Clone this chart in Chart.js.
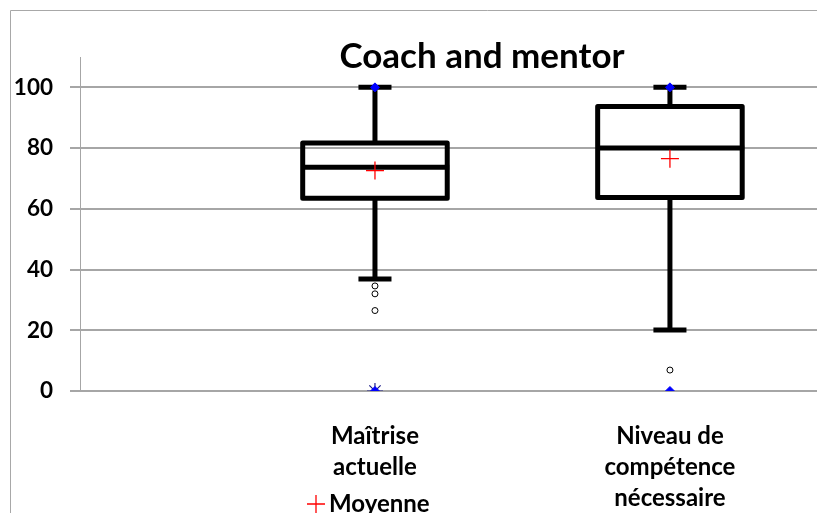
<!DOCTYPE html>
<html><head><meta charset="utf-8">
<script src="https://cdn.jsdelivr.net/npm/chart.js@4/dist/chart.umd.min.js"></script>
<style>html,body{margin:0;padding:0;background:#fff;overflow:hidden}#wrap{width:817px;height:513px;position:relative;overflow:hidden}</style>
</head><body><div id="wrap"><canvas id="c" width="964" height="513"></canvas></div>
<script>
const chartTitle = 'Coach and mentor';
const categories = [['Maîtrise', 'actuelle'], ['Niveau de', 'compétence', 'nécessaire']];
const q1 = [63.5, 63.7];
const median = [73.7, 80.0];
const q3 = [81.7, 93.7];
const whiskerLow = [36.9, 20.1];
const whiskerHigh = [100, 100];
const means = [72.6, 76.5];
const outliers = [[34.6, 32.0, 26.5], [6.9]];
const extremeOutliers = [[0], []];
const minima = [0, 0];
const maxima = [100, 100];
const yTicks = [0, 20, 40, 60, 80, 100];
const meanLabel = 'Moyenne';

const FONT = 'Lato, "Open Sans", "DejaVu Sans", sans-serif';

const boxPlugin = {
  id: 'boxes',
  beforeDatasetsDraw(chart) {
    const ctx = chart.ctx, xs = chart.scales.x, ys = chart.scales.y;
    ctx.save();
    ctx.strokeStyle = '#000';
    ctx.lineWidth = 5;
    ctx.lineJoin = 'round';
    categories.forEach((c, i) => {
      const xc = xs.getPixelForValue(i + 1);
      const hw = xs.getPixelForValue(i + 1 + 0.245) - xc;
      const cw = xs.getPixelForValue(i + 1 + 0.056) - xc;
      const yq1 = ys.getPixelForValue(q1[i]), yq3 = ys.getPixelForValue(q3[i]);
      const ym = ys.getPixelForValue(median[i]);
      const ylo = ys.getPixelForValue(whiskerLow[i]), yhi = ys.getPixelForValue(whiskerHigh[i]);
      ctx.beginPath();
      ctx.moveTo(xc, yq3); ctx.lineTo(xc, yhi);
      ctx.moveTo(xc, yq1); ctx.lineTo(xc, ylo);
      ctx.moveTo(xc - cw, yhi); ctx.lineTo(xc + cw, yhi);
      ctx.moveTo(xc - cw, ylo); ctx.lineTo(xc + cw, ylo);
      ctx.stroke();
      ctx.beginPath();
      ctx.rect(xc - hw, yq3, 2 * hw, yq1 - yq3);
      ctx.stroke();
      ctx.beginPath();
      ctx.moveTo(xc - hw, ym); ctx.lineTo(xc + hw + 2, ym);
      ctx.stroke();
    });
    ctx.restore();
  },
  afterDraw(chart) {
    const ctx = chart.ctx;
    ctx.save();
    ctx.strokeStyle = '#a8a8a8';
    ctx.lineWidth = 1;
    ctx.beginPath();
    ctx.moveTo(10.5, 513); ctx.lineTo(10.5, 10.5); ctx.lineTo(chart.width, 10.5);
    ctx.stroke();
    const ds = chart.data.datasets[0];
    const lx = 316, ly = 504, r = 9;
    ctx.strokeStyle = ds.borderColor;
    ctx.lineWidth = 1.3;
    ctx.beginPath();
    ctx.moveTo(lx - r, ly); ctx.lineTo(lx + r, ly);
    ctx.moveTo(lx, ly - r); ctx.lineTo(lx, ly + r);
    ctx.stroke();
    ctx.fillStyle = '#000';
    ctx.font = 'bold 24px ' + FONT;
    ctx.textBaseline = 'alphabetic';
    ctx.textAlign = 'left';
    ctx.fillText(ds.label, 329, 512);
    ctx.restore();
  }
};

new Chart(document.getElementById('c'), {
  type: 'scatter',
  data: {
    datasets: [
      {
        label: meanLabel,
        data: means.map((v, i) => ({ x: i + 1, y: v })),
        pointStyle: 'cross', pointRadius: 9, borderColor: '#ff0000', borderWidth: 1.3
      },
      {
        label: 'Outliers',
        data: outliers.flatMap((arr, i) => arr.map(v => ({ x: i + 1, y: v }))),
        pointStyle: 'circle', pointRadius: 3, borderColor: '#000', backgroundColor: '#fff', borderWidth: 1
      },
      {
        label: 'Extremes',
        data: minima.map((v, i) => ({ x: i + 1, y: v })).concat(maxima.map((v, i) => ({ x: i + 1, y: v }))),
        pointStyle: 'rectRot', pointRadius: 4.5, borderColor: '#0000ff', backgroundColor: '#0000ff', borderWidth: 1
      },
      {
        label: 'Extreme outliers',
        data: extremeOutliers.flatMap((arr, i) => arr.map(v => ({ x: i + 1, y: v }))),
        pointStyle: 'star', pointRadius: 8, borderColor: '#20208a', backgroundColor: '#0000ff', borderWidth: 1.2
      }
    ]
  },
  options: {
    responsive: false,
    animation: false,
    devicePixelRatio: 1,
    layout: { padding: 0 },
    plugins: {
      legend: { display: false },
      tooltip: { enabled: false },
      title: {
        display: true,
        text: chartTitle,
        color: '#000',
        font: { family: FONT, size: 35, weight: 'bold', lineHeight: 1.2 },
        padding: { top: 35.5, bottom: -20.5 }
      }
    },
    scales: {
      x: {
        type: 'linear', min: 0, max: 2.962,
        afterBuildTicks: s => { s.ticks = categories.map((c, i) => ({ value: i + 1 })); },
        afterFit: s => { s.height = 122; s.paddingLeft = 0; s.paddingRight = 0; },
        ticks: {
          callback: v => categories[v - 1] || '',
          color: '#000', padding: 21.5, maxRotation: 0, autoSkip: false,
          font: { family: FONT, size: 24, weight: 'bold', lineHeight: 1.29 }
        },
        grid: { display: false },
        border: { display: false }
      },
      y: {
        min: 0, max: 110,
        afterBuildTicks: s => { s.ticks = yTicks.map(v => ({ value: v })); },
        afterFit: s => { s.width = 80; },
        ticks: {
          color: '#000', padding: 17,
          font: { family: FONT, size: 22.5, weight: 'bold' }
        },
        grid: { color: '#a6a6a6', lineWidth: 2, tickLength: 10, drawTicks: true },
        border: { display: true, color: '#a6a6a6', width: 1 }
      }
    }
  },
  plugins: [boxPlugin]
});
</script></body></html>
